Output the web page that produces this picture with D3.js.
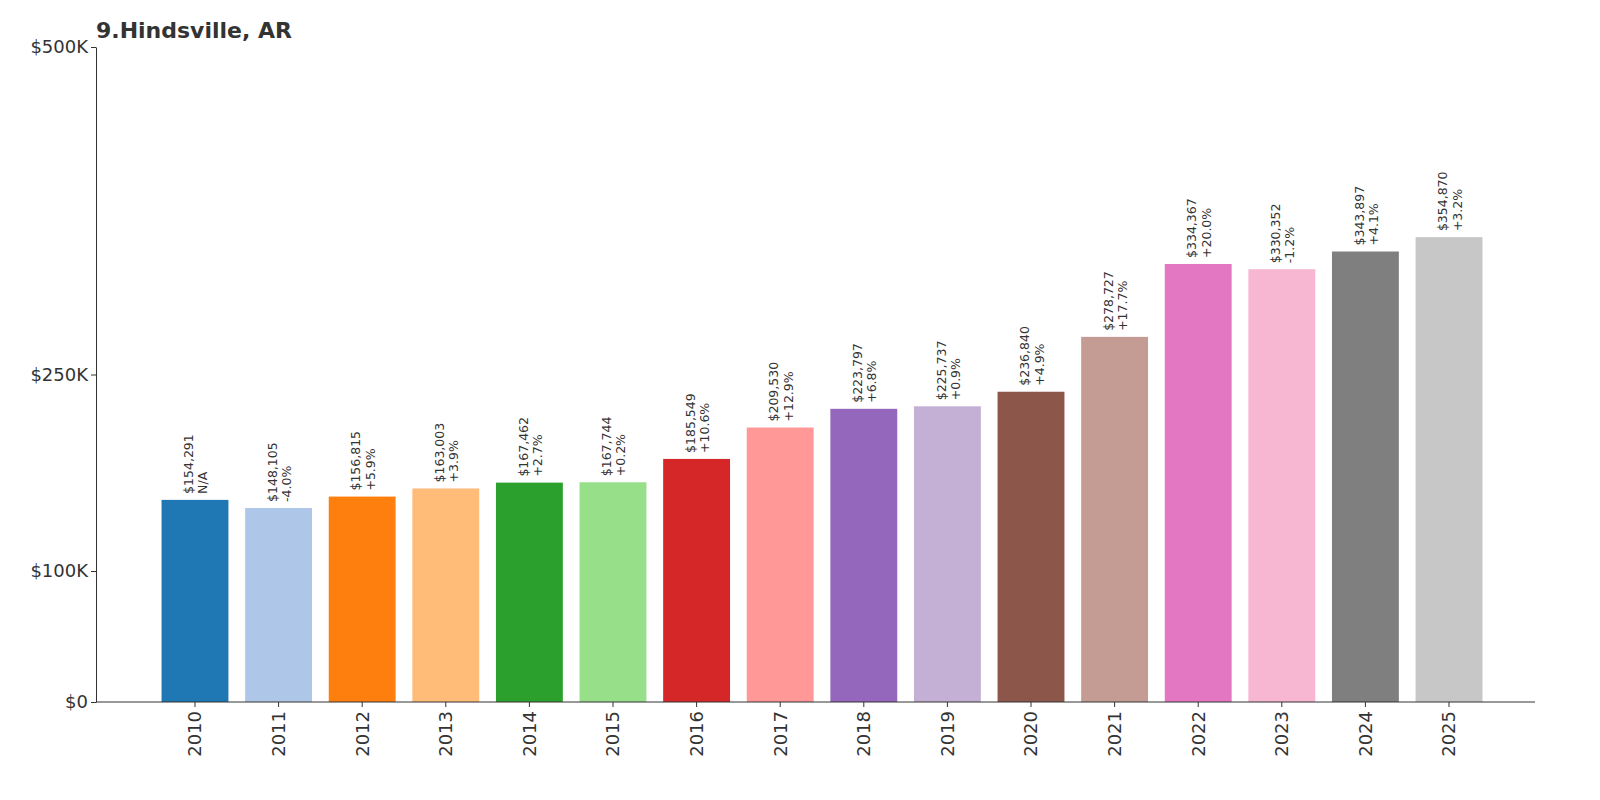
<!DOCTYPE html>
<html><head><meta charset="utf-8">
<script src="https://cdn.jsdelivr.net/npm/d3@7"></script>
<style>body{margin:0;background:#fff;font-family:"DejaVu Sans",sans-serif;}</style>
</head><body><svg id="c" width="1600" height="800"></svg>
<script>
const years=["2010","2011","2012","2013","2014","2015","2016","2017","2018","2019","2020","2021","2022","2023","2024","2025"];
const values=[154291,148105,156815,163003,167462,167744,185549,209530,223797,225737,236840,278727,334367,330352,343897,354870];
const changes=["N/A","-4.0%","+5.9%","+3.9%","+2.7%","+0.2%","+10.6%","+12.9%","+6.8%","+0.9%","+4.9%","+17.7%","+20.0%","-1.2%","+4.1%","+3.2%"];
const colors=["#1f77b4","#aec7e8","#ff7f0e","#ffbb78","#2ca02c","#98df8a","#d62728","#ff9896","#9467bd","#c5b0d5","#8c564b","#c49c94","#e377c2","#f7b6d2","#7f7f7f","#c7c7c7"];
const yTicks=[0,100000,250000,500000];
const yTickLabels=["$0","$100K","$250K","$500K"];
const title="9.Hindsville, AR";

const svg=d3.select("#c");
const x=d3.scaleBand().domain(years).range([96,1548]).paddingInner(0.2).paddingOuter(0.784);
const y=d3.scaleLinear().domain([0,500000]).range([702,47]);

svg.selectAll("rect.bar").data(values).join("rect")
 .attr("x",(d,i)=>x(years[i])).attr("width",x.bandwidth())
 .attr("y",d=>y(d)).attr("height",d=>y(0)-y(d)).attr("fill",(d,i)=>colors[i]);

const fmt=d3.format(",");
svg.selectAll("text.lab").data(values).join("text")
 .attr("transform",(d,i)=>`translate(${x(years[i])+x.bandwidth()/2},${y(d)-6}) rotate(-90)`)
 .attr("font-size",12.5).attr("fill","#333")
 .each(function(d,i){
   const t=d3.select(this);
   t.append("tspan").attr("x",0).attr("dy","-0.15em").text("$"+fmt(d));
   t.append("tspan").attr("x",0).attr("dy","1.15em").text(changes[i]);
 });

// axes
const ya=svg.append("g").attr("transform","translate(96,0)")
 .call(d3.axisLeft(y).tickValues(yTicks).tickFormat((d,i)=>yTickLabels[i]).tickSize(5).tickSizeOuter(0));
ya.selectAll("text").attr("font-size",18).attr("fill","#333").attr("font-family","DejaVu Sans");
ya.select(".domain").attr("stroke","#333");
ya.selectAll("line").attr("stroke","#333");

const xa=svg.append("g").attr("transform","translate(0,702)")
 .call(d3.axisBottom(x).tickSize(5).tickSizeOuter(0));
xa.select(".domain").remove();
xa.append("line").attr("x1",96).attr("x2",1535).attr("stroke","#333");
xa.selectAll(".tick line").attr("stroke","#333");
xa.selectAll("text").attr("font-size",18).attr("fill","#333").attr("font-family","DejaVu Sans")
 .attr("transform","rotate(-90)").attr("text-anchor","end").attr("x",-9).attr("y",0).attr("dy","0.35em");

svg.append("text").attr("x",96).attr("y",38).attr("font-size",22).attr("font-weight","bold").attr("fill","#333").text(title);
</script></body></html>
